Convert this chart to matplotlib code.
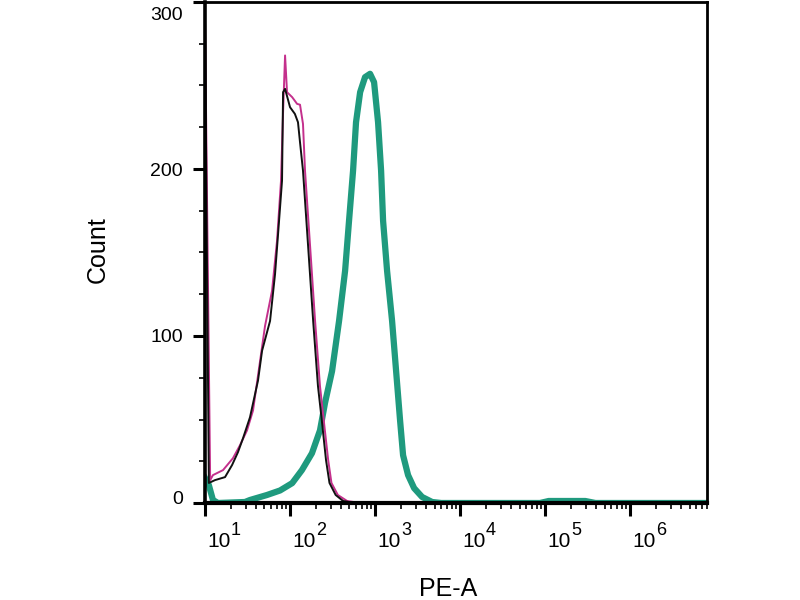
import matplotlib
matplotlib.use("Agg")
from matplotlib import pyplot as plt
from matplotlib import ticker, transforms

plt.rcParams['font.family'] = ['Liberation Sans', 'DejaVu Sans']

# PE-A intensity vs count
black_x = [10, 11.1, 13.1, 17.2, 20.8, 24.4, 28.0, 33.8, 42.0, 46.9, 58.2, 66.6, 72.3, 80.5,
           82.8, 87.4, 100, 114, 124, 131, 142, 163, 187, 213, 238, 265, 291, 344, 421, 582, 8e6]
black_y = [290, 12, 13.7, 15.5, 22.7, 30.4, 38.8, 51.3, 73.3, 91.2, 109, 137, 161, 193,
           246, 248, 237, 233, 228, 216, 199, 154, 109, 70, 48, 25.6, 12, 4.8, 1.2, 0, 0]

mag_x = [10, 11.5, 12.4, 16.3, 21.3, 25.8, 31.2, 36.7, 42, 50.8, 61.4, 70.3, 78.3, 82.8,
         87.4, 92.2, 106, 121, 131, 142, 150, 172, 197, 225, 251, 281, 307, 365, 469, 667, 8e6]
mag_y = [291, 13.7, 16.7, 19.7, 26.8, 34.6, 43.5, 55.4, 76.3, 106, 127, 157, 193, 234,
         268, 246, 243, 239, 238.5, 227, 199, 154, 109, 70, 48, 25.6, 12, 4.8, 1.2, 0, 0]

teal_x = [10, 11.1, 12.4, 14.2, 29.5, 33.8, 53.6, 76.3, 106, 138, 181, 225, 258, 312, 377,
          444, 494, 551, 597, 667, 762, 873, 973, 1084, 1177, 1242, 1384, 1585, 1767,
          1967, 2134, 2443, 2877, 3574, 4688, 6000, 8.7e4, 1.1e5, 2.96e5, 3.9e5, 8e6]
teal_y = [15, 10.7, 1.8, 0, 0.6, 1.8, 4.8, 7.5, 11.9, 19.7, 29.8, 43.5, 60, 79, 109,
          139, 169, 199, 228, 246, 255, 257, 252, 228, 199, 169, 139, 109, 79,
          49.5, 28.6, 16.7, 8.9, 3.6, 0.6, 0, 0, 1.2, 1.2, 0, 0]

x_ticks = [1e1, 1e2, 1e3, 1e4, 1e5, 1e6]
x_exponents = ['1', '2', '3', '4', '5', '6']
y_ticks = [0, 100, 200, 300]

fig = plt.figure(figsize=(8, 6), dpi=100)
ax = fig.add_axes([205 / 800, 1 - 503 / 600, 502 / 800, 501 / 600])

ax.plot(teal_x, teal_y, color='#1f9a7e', lw=4.5, solid_joinstyle='round')
ax.plot(mag_x, mag_y, color='#c4308c', lw=1.4)
ax.plot(black_x, black_y, color='#111111', lw=1.4)

ax.set_xscale('log')
ax.set_xlim(10, 8e6)
ax.set_ylim(0, 300)

ax.set_xticks(x_ticks)
ax.set_xticklabels(['10'] * len(x_ticks))
ax.xaxis.set_minor_locator(ticker.LogLocator(base=10, subs=range(2, 10), numticks=20))
ax.xaxis.set_minor_formatter(ticker.NullFormatter())
ax.set_yticks(y_ticks)
ax.yaxis.set_minor_locator(ticker.MultipleLocator(25))

ax.tick_params(axis='both', which='major', direction='out', length=9, width=2.2,
               labelsize=14, colors='black')
ax.tick_params(axis='both', which='minor', direction='out', length=4.5, width=1.2)
ax.tick_params(axis='x', which='major', pad=12, labelsize=15)
ax.tick_params(axis='y', which='major', pad=7)

for side, w in [('left', 2.6), ('bottom', 3.0), ('top', 2.0), ('right', 2.0)]:
    ax.spines[side].set_linewidth(w)

# "10" starts just right of each decade tick, exponent at full-ish size
shift = transforms.ScaledTranslation(2 / 100, 0, fig.dpi_scale_trans)
for lbl in ax.get_xticklabels():
    lbl.set_horizontalalignment('left')
    lbl.set_transform(lbl.get_transform() + shift)
for xt, ex in zip(x_ticks, x_exponents):
    ax.annotate(ex, xy=(xt, 0), xycoords=('data', 'axes fraction'),
                xytext=(26, -19), textcoords='offset pixels',
                ha='left', va='top', fontsize=13, annotation_clip=False)

ylbls = ax.get_yticklabels()
ylbls[-1].set_transform(ylbls[-1].get_transform() +
                        transforms.ScaledTranslation(0, -11 / 100, fig.dpi_scale_trans))
ylbls[0].set_transform(ylbls[0].get_transform() +
                       transforms.ScaledTranslation(0, 5 / 100, fig.dpi_scale_trans))

ax.set_xlabel('PE-A', fontsize=18)
ax.set_ylabel('Count', fontsize=18)
ax.xaxis.set_label_coords(0.484, -0.148)
ax.yaxis.set_label_coords(-0.189, 0.505)

fig.savefig('out.png', dpi=100)
